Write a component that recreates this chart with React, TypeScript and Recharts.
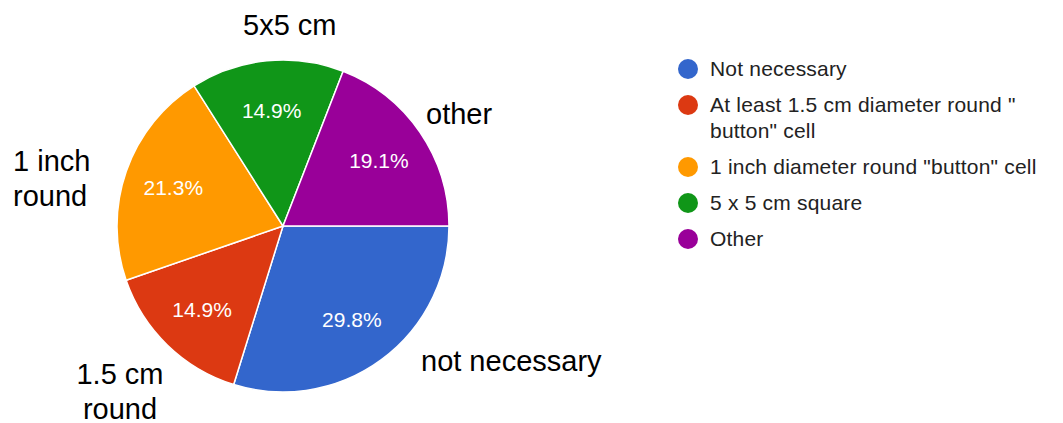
import { Pie, PieChart, Cell } from "recharts";

const categories = [
  "Not necessary",
  'At least 1.5 cm diameter round " button" cell',
  '1 inch diameter round "button" cell',
  "5 x 5 cm square",
  "Other",
];
const shares = [29.8, 14.9, 21.3, 14.9, 19.1];
const colors = ["#3366cc", "#dc3912", "#ff9900", "#109618", "#990099"];

// hand-written callouts sitting around the pie
const callouts = [
  { lines: ["5x5 cm"], x: 243, y: 35, anchor: "start" },
  { lines: ["other"], x: 426, y: 124, anchor: "start" },
  { lines: ["1 inch", "round"], x: 13, y: 171, anchor: "start" },
  { lines: ["1.5 cm", "round"], x: 120, y: 384, anchor: "middle" },
  { lines: ["not necessary"], x: 421, y: 371, anchor: "start" },
];

const data = categories.map((name, i) => ({ name, value: shares[i] }));

const RAD = Math.PI / 180;
const FONT = "Liberation Sans, Arial, sans-serif";

function PctLabel(props: any) {
  const { cx, cy, midAngle, outerRadius, value } = props;
  const r = outerRadius * 0.7;
  const x = cx + r * Math.cos(-midAngle * RAD);
  const y = cy + r * Math.sin(-midAngle * RAD);
  return (
    <text
      x={x}
      y={y}
      fill="#ffffff"
      textAnchor="middle"
      dominantBaseline="central"
      fontSize={21}
      fontFamily={FONT}
    >
      {`${value.toFixed(1)}%`}
    </text>
  );
}

function LegendBox() {
  return (
    <div
      style={{
        position: "absolute",
        left: 678,
        top: 56,
        fontFamily: FONT,
        fontSize: 21,
        color: "#222",
      }}
    >
      {categories.map((name, i) => (
        <div key={name} style={{ display: "flex", alignItems: "flex-start", marginBottom: 10 }}>
          <span
            style={{
              width: 20,
              height: 20,
              borderRadius: 10,
              background: colors[i],
              marginTop: 3,
              marginRight: 12,
              flex: "none",
            }}
          />
          <span style={{ width: 350, lineHeight: "26px", letterSpacing: 0.2 }}>{name}</span>
        </div>
      ))}
    </div>
  );
}

export default function App() {
  return (
    <div style={{ position: "absolute", left: 0, top: 0, width: 1063, height: 423, background: "#fff" }}>
      <PieChart width={1063} height={423} margin={{ top: 0, right: 0, bottom: 0, left: 0 }}>
        <Pie
          data={data}
          dataKey="value"
          nameKey="name"
          cx={283}
          cy={226}
          outerRadius={166}
          startAngle={0}
          endAngle={-360}
          stroke="#ffffff"
          strokeWidth={1.5}
          label={PctLabel}
          labelLine={false}
          isAnimationActive={false}
        >
          {data.map((d, i) => (
            <Cell key={d.name} fill={colors[i]} />
          ))}
        </Pie>
      </PieChart>
      <LegendBox />
      <svg
        width={1063}
        height={423}
        style={{ position: "absolute", left: 0, top: 0, pointerEvents: "none" }}
      >
        {callouts.map((c) => (
          <text
            key={c.lines.join(" ")}
            x={c.x}
            y={c.y}
            textAnchor={c.anchor as any}
            fontSize={29}
            fill="#000"
            fontFamily={FONT}
          >
            {c.lines.map((l, j) => (
              <tspan key={l} x={c.x} dy={j === 0 ? 0 : 35}>
                {l}
              </tspan>
            ))}
          </text>
        ))}
      </svg>
    </div>
  );
}
